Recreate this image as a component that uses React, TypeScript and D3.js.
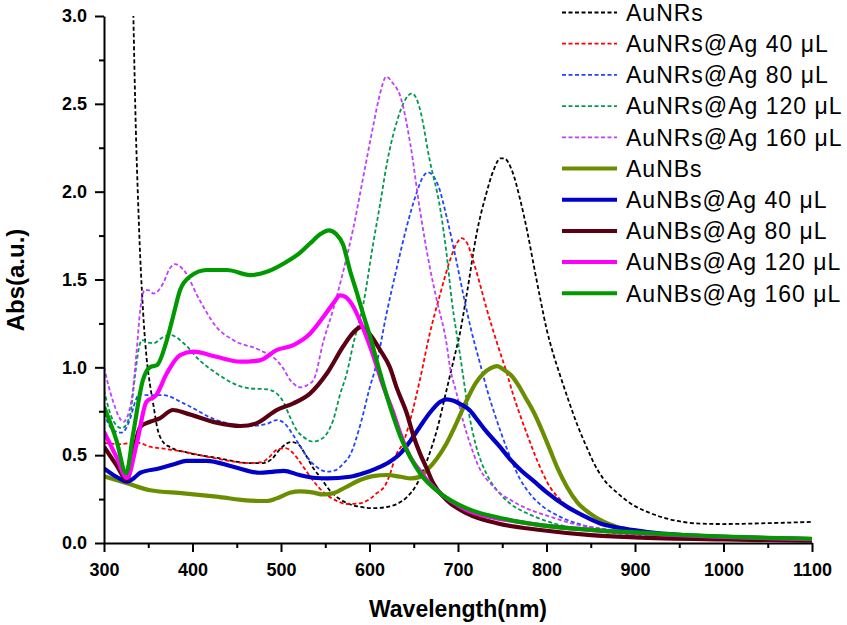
import React, { useRef, useEffect } from 'react';
import * as d3 from 'd3';

type Pt = [number, number];

// wavelength (nm), absorbance (a.u.)
const auNRs: Pt[] = [
  [333, 3.05], [336, 2.35], [338.5, 1.95], [341, 1.62], [343, 1.42], [345, 1.25], [348, 1.06],
  [352, 0.9], [356, 0.78], [360, 0.66], [366, 0.58], [375, 0.545], [394, 0.515], [428, 0.484],
  [465, 0.455], [480, 0.455], [490, 0.48], [499, 0.535], [506, 0.565], [512, 0.575], [520, 0.56],
  [528, 0.5], [536, 0.43], [545, 0.37], [555, 0.3], [565, 0.255], [575, 0.226], [590, 0.205],
  [604, 0.198], [620, 0.205], [630, 0.22], [642, 0.26], [653, 0.33], [665, 0.47], [676, 0.64],
  [687, 0.87], [695, 1.04], [702, 1.19], [710, 1.42], [721, 1.76], [732, 1.99], [740, 2.12],
  [748, 2.19], [752, 2.19], [761, 2.12], [770, 1.96], [778, 1.78], [786, 1.57], [793, 1.39],
  [800, 1.22], [808, 1.07], [815, 0.96], [825, 0.81], [835, 0.67], [845, 0.55], [853, 0.46],
  [865, 0.36], [880, 0.285], [900, 0.21], [917, 0.171], [935, 0.14], [954, 0.12], [975, 0.11],
  [1000, 0.108], [1050, 0.113], [1100, 0.12],
];

const auNRsAg40: Pt[] = [
  [300, 0.57], [318, 0.563], [337, 0.572], [352, 0.548], [370, 0.535], [390, 0.52], [427, 0.48],
  [465, 0.455], [478, 0.46], [487, 0.49], [495, 0.53], [505, 0.54], [514, 0.51], [523, 0.45],
  [533, 0.377], [542, 0.32], [552, 0.273], [563, 0.24], [574, 0.222], [589, 0.226], [600, 0.25],
  [608, 0.283], [618, 0.33], [623, 0.39], [630, 0.5], [638, 0.57], [646, 0.7], [657, 0.93],
  [668, 1.19], [680, 1.42], [691, 1.61], [698, 1.7], [704, 1.735], [710, 1.71], [717, 1.61],
  [725, 1.47], [732, 1.34], [744, 1.14], [755, 0.97], [762, 0.85], [770, 0.73], [778, 0.62],
  [787, 0.5], [796, 0.395], [805, 0.31], [815, 0.25], [825, 0.2], [840, 0.16], [860, 0.121],
  [880, 0.095], [898, 0.074], [925, 0.06], [954, 0.045], [1000, 0.036], [1050, 0.03], [1100, 0.027],
];

const auNRsAg80: Pt[] = [
  [300, 0.74], [310, 0.643], [320, 0.628], [329, 0.7], [335, 0.8], [340, 0.852], [348, 0.842],
  [367, 0.842], [390, 0.795], [427, 0.7], [465, 0.666], [485, 0.68], [495, 0.7], [504, 0.681],
  [513, 0.62], [522, 0.548], [531, 0.48], [540, 0.434], [552, 0.406], [562, 0.415], [570, 0.45],
  [578, 0.5], [590, 0.68], [600, 0.88], [608, 1.02], [619, 1.3], [631, 1.57], [642, 1.8],
  [653, 1.99], [660, 2.08], [666, 2.11], [672, 2.09], [678, 2.03], [687, 1.86], [698, 1.61],
  [707, 1.39], [715, 1.21], [725, 1.02], [733, 0.87], [743, 0.71], [755, 0.54], [770, 0.365],
  [783, 0.27], [796, 0.207], [815, 0.15], [834, 0.112], [855, 0.085], [879, 0.064], [910, 0.05],
  [954, 0.036], [1000, 0.028], [1050, 0.024], [1100, 0.021],
];

const auNRsAg120: Pt[] = [
  [300, 0.87], [310, 0.7], [320, 0.653], [329, 0.719], [335, 0.95], [339, 1.1], [343, 1.155],
  [350, 1.14], [356, 1.137], [366, 1.17], [375, 1.184], [390, 1.137], [408, 1.04], [427, 0.966],
  [446, 0.909], [465, 0.88], [484, 0.875], [495, 0.852], [503, 0.8], [510, 0.719], [518, 0.64],
  [525, 0.605], [536, 0.577], [545, 0.59], [552, 0.624], [559, 0.7], [567, 0.85], [574, 0.96],
  [582, 1.14], [593, 1.36], [604, 1.7], [612, 1.93], [620, 2.17], [631, 2.4], [640, 2.52],
  [648, 2.56], [653, 2.53], [657, 2.47], [668, 2.18], [680, 1.9], [687, 1.65], [693, 1.38],
  [702, 1.08], [713, 0.72], [720, 0.56], [728, 0.44], [737, 0.35], [747, 0.283], [760, 0.22],
  [778, 0.169], [800, 0.125], [823, 0.093], [850, 0.07], [879, 0.055], [915, 0.042], [954, 0.032],
  [1000, 0.027], [1050, 0.023], [1100, 0.021],
];

const auNRsAg160: Pt[] = [
  [300, 1.0], [310, 0.81], [322, 0.69], [331, 0.81], [337, 1.1], [341, 1.33], [346, 1.44],
  [350, 1.44], [356, 1.42], [367, 1.48], [374, 1.56], [380, 1.588], [390, 1.554], [408, 1.383],
  [427, 1.23], [446, 1.155], [476, 1.098], [495, 1.04], [503, 0.99], [510, 0.93], [516, 0.9],
  [522, 0.886], [530, 0.9], [537, 0.93], [548, 1.15], [559, 1.33], [570, 1.54], [582, 1.8],
  [593, 2.085], [604, 2.37], [612, 2.56], [619, 2.655], [626, 2.62], [635, 2.54], [646, 2.275],
  [657, 1.895], [668, 1.573], [676, 1.383], [687, 1.137], [691, 1.0], [698, 0.86], [706, 0.69],
  [714, 0.56], [722, 0.45], [740, 0.32], [766, 0.226], [804, 0.15], [830, 0.11], [860, 0.084],
  [900, 0.062], [954, 0.045], [1000, 0.036], [1050, 0.03], [1100, 0.025],
];

const auNBs: Pt[] = [
  [300, 0.38], [326, 0.34], [352, 0.3], [390, 0.283], [427, 0.264], [465, 0.241], [484, 0.239],
  [495, 0.254], [510, 0.286], [522, 0.294], [535, 0.288], [548, 0.276], [560, 0.285], [574, 0.32],
  [590, 0.36], [604, 0.381], [620, 0.387], [635, 0.377], [647, 0.368], [656, 0.375], [665, 0.415],
  [676, 0.48], [687, 0.567], [698, 0.68], [710, 0.814], [720, 0.91], [729, 0.966], [737, 0.995],
  [744, 1.007], [752, 0.985], [760, 0.955], [768, 0.9], [776, 0.83], [785, 0.75], [795, 0.64],
  [804, 0.53], [813, 0.42], [823, 0.32], [835, 0.23], [849, 0.169], [865, 0.12], [879, 0.093],
  [900, 0.068], [917, 0.055], [950, 0.04], [992, 0.032], [1050, 0.026], [1100, 0.022],
];

const auNBsAg40: Pt[] = [
  [300, 0.425], [314, 0.377], [326, 0.349], [334, 0.37], [341, 0.4], [363, 0.425], [380, 0.45],
  [393, 0.468], [416, 0.468], [446, 0.434], [476, 0.4], [490, 0.405], [503, 0.411], [521, 0.387],
  [540, 0.37], [552, 0.368], [578, 0.377], [595, 0.4], [608, 0.425], [622, 0.46], [635, 0.51],
  [646, 0.58], [657, 0.662], [668, 0.74], [680, 0.804], [687, 0.818], [695, 0.81], [703, 0.79],
  [713, 0.757], [722, 0.7], [732, 0.635], [747, 0.55], [760, 0.47], [772, 0.41], [785, 0.355],
  [800, 0.29], [823, 0.207], [840, 0.16], [860, 0.112], [880, 0.088], [898, 0.074], [925, 0.056],
  [954, 0.045], [1000, 0.035], [1050, 0.027], [1100, 0.022],
];

const auNBsAg80: Pt[] = [
  [300, 0.548], [314, 0.444], [326, 0.36], [333, 0.51], [341, 0.662], [352, 0.69], [363, 0.71],
  [378, 0.757], [393, 0.738], [427, 0.685], [454, 0.666], [472, 0.681], [495, 0.757], [514, 0.795],
  [533, 0.852], [552, 0.966], [570, 1.117], [582, 1.2], [591, 1.23], [600, 1.19], [612, 1.098],
  [623, 1.0], [631, 0.88], [642, 0.74], [650, 0.605], [657, 0.51], [665, 0.42], [672, 0.34],
  [687, 0.245], [710, 0.169], [744, 0.112], [793, 0.074], [850, 0.045], [900, 0.032],
  [1000, 0.02], [1100, 0.013],
];

const auNBsAg120: Pt[] = [
  [300, 0.634], [314, 0.49], [326, 0.37], [337, 0.567], [348, 0.804], [359, 0.842], [371, 0.966],
  [386, 1.07], [401, 1.089], [427, 1.06], [454, 1.032], [476, 1.04], [495, 1.098], [514, 1.127],
  [533, 1.193], [548, 1.288], [559, 1.364], [567, 1.41], [573, 1.4], [580, 1.36], [593, 1.22],
  [604, 1.07], [615, 0.9], [627, 0.74], [635, 0.62], [646, 0.49], [657, 0.41], [668, 0.34],
  [680, 0.283], [695, 0.23], [710, 0.188], [730, 0.155], [755, 0.131], [793, 0.102], [850, 0.075],
  [900, 0.058], [950, 0.045], [1000, 0.035], [1050, 0.028], [1100, 0.022],
];

const auNBsAg160: Pt[] = [
  [300, 0.776], [314, 0.586], [325, 0.397], [333, 0.624], [344, 0.928], [352, 1.0], [360, 1.013],
  [371, 1.155], [378, 1.288], [386, 1.44], [397, 1.516], [416, 1.554], [439, 1.554], [465, 1.525],
  [484, 1.544], [506, 1.6], [521, 1.65], [533, 1.706], [545, 1.76], [554, 1.78], [562, 1.76],
  [570, 1.7], [578, 1.55], [586, 1.42], [593, 1.3], [601, 1.17], [608, 1.04], [623, 0.78],
  [635, 0.605], [646, 0.49], [657, 0.397], [680, 0.283], [710, 0.197], [755, 0.135], [793, 0.102],
  [850, 0.075], [900, 0.06], [950, 0.047], [1000, 0.037], [1050, 0.03], [1100, 0.024],
];

const seriesNames = [
  'AuNRs', 'AuNRs@Ag 40 μL', 'AuNRs@Ag 80 μL', 'AuNRs@Ag 120 μL', 'AuNRs@Ag 160 μL',
  'AuNBs', 'AuNBs@Ag 40 μL', 'AuNBs@Ag 80 μL', 'AuNBs@Ag 120 μL', 'AuNBs@Ag 160 μL',
];
const seriesData = [
  auNRs, auNRsAg40, auNRsAg80, auNRsAg120, auNRsAg160,
  auNBs, auNBsAg40, auNBsAg80, auNBsAg120, auNBsAg160,
];
const seriesColors = [
  '#000000', '#ff0000', '#2244ff', '#009a4e', '#bf3fff',
  '#6b8e00', '#0000c8', '#5a0012', '#ff00ff', '#009a00',
];
const xTicks = [300, 400, 500, 600, 700, 800, 900, 1000, 1100];
const yTicks = [0, 0.5, 1.0, 1.5, 2.0, 2.5, 3.0];

const width = 847;
const height = 625;
const FONT = 'Arial, "Liberation Sans", Helvetica, sans-serif';

export default function App() {
  const svgRef = useRef<SVGSVGElement>(null);

  useEffect(() => {
    const svg = d3.select(svgRef.current);
    svg.selectAll('*').remove();

    const margin = { top: 16, right: 35, bottom: 82, left: 104 };
    const x = d3.scaleLinear().domain([300, 1100]).range([margin.left, width - margin.right]);
    const y = d3.scaleLinear().domain([0, 3]).range([height - margin.bottom, margin.top]);

    svg.append('defs').append('clipPath').attr('id', 'plot-clip')
      .append('rect')
      .attr('x', x(300)).attr('y', y(3))
      .attr('width', x(1100) - x(300)).attr('height', y(0) - y(3));

    const line = d3.line<Pt>()
      .x(d => x(d[0]))
      .y(d => y(d[1]))
      .curve(d3.curveMonotoneX);

    // curves, drawn in legend order so the thick ones sit on top
    const curves = svg.append('g').attr('clip-path', 'url(#plot-clip)');
    seriesData.forEach((data, i) => {
      const thick = i >= 5;
      curves.append('path')
        .datum(data)
        .attr('d', line)
        .attr('fill', 'none')
        .attr('stroke', seriesColors[i])
        .attr('stroke-width', thick ? 4.2 : 1.8)
        .attr('stroke-dasharray', thick ? null : '4,2.5')
        .attr('stroke-linejoin', 'round');
    });

    // axes
    const xMinor = d3.range(350, 1100, 100);
    const yMinor = d3.range(0.25, 3, 0.5);

    const xAxis = svg.append('g')
      .attr('transform', `translate(0,${y(0)})`)
      .call(d3.axisBottom(x).tickValues(xTicks).tickSize(9).tickPadding(11).tickSizeOuter(0).tickFormat(d3.format('d')));
    svg.append('g')
      .attr('transform', `translate(0,${y(0)})`)
      .call(d3.axisBottom(x).tickValues(xMinor).tickSize(5).tickSizeOuter(0).tickFormat(() => ''))
      .select('.domain').remove();

    const yAxis = svg.append('g')
      .attr('transform', `translate(${x(300)},0)`)
      .call(d3.axisLeft(y).tickValues(yTicks).tickSize(9).tickPadding(8).tickSizeOuter(0).tickFormat(d3.format('.1f')));
    svg.append('g')
      .attr('transform', `translate(${x(300)},0)`)
      .call(d3.axisLeft(y).tickValues(yMinor).tickSize(5).tickSizeOuter(0).tickFormat(() => ''))
      .select('.domain').remove();

    svg.selectAll('.domain, .tick line')
      .attr('stroke', '#000')
      .attr('stroke-width', 2);
    [xAxis, yAxis].forEach(g => g.selectAll('text')
      .attr('fill', '#000')
      .style('font-family', FONT)
      .style('font-weight', 'bold')
      .style('font-size', '18px'));

    // axis titles
    svg.append('text')
      .attr('x', 458)
      .attr('y', 617)
      .attr('text-anchor', 'middle')
      .style('font-family', FONT)
      .style('font-weight', 'bold')
      .style('font-size', '23px')
      .text('Wavelength(nm)');

    svg.append('text')
      .attr('transform', 'translate(24,280) rotate(-90)')
      .attr('text-anchor', 'middle')
      .style('font-family', FONT)
      .style('font-weight', 'bold')
      .style('font-size', '24px')
      .text('Abs(a.u.)');

    // legend
    const legend = svg.append('g');
    seriesNames.forEach((name, i) => {
      const ly = 12.5 + i * 31.2;
      const thick = i >= 5;
      legend.append('line')
        .attr('x1', 562).attr('x2', 617)
        .attr('y1', ly).attr('y2', ly)
        .attr('stroke', seriesColors[i])
        .attr('stroke-width', thick ? 4 : 1.8)
        .attr('stroke-dasharray', thick ? null : '4,2.5');
      legend.append('text')
        .attr('x', 626)
        .attr('y', ly)
        .attr('dy', '0.36em')
        .style('font-family', FONT)
        .style('font-size', '23px')
        .style('letter-spacing', '1px')
        .text(name);
    });
  }, []);

  return (
    <svg ref={svgRef} width={width} height={height}
      style={{ position: 'absolute', left: 0, top: 0, background: '#fff' }} />
  );
}
